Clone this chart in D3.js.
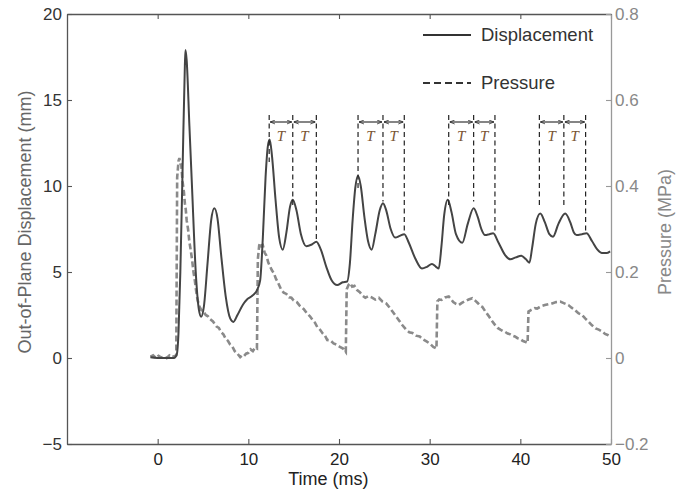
<!DOCTYPE html>
<html>
<head>
<meta charset="utf-8">
<script src="https://cdn.jsdelivr.net/npm/d3@7/dist/d3.min.js"></script>
<style>
  html, body { margin: 0; padding: 0; background: #fff; }
  svg { display: block; font-family: "Liberation Sans", Arial, Helvetica, sans-serif; }
</style>
</head>
<body>
<svg id="chart" width="689" height="493"></svg>
<script>
// ---------- data ----------
const xTicks = [0, 10, 20, 30, 40, 50];
const leftTicks = [-5, 0, 5, 10, 15, 20];
const rightTicks = [-0.2, 0, 0.2, 0.4, 0.6, 0.8];

// Displacement (mm) vs time (ms)
const dispTime = [-0.8, 0.5, 1.8, 2.1, 2.3, 2.5, 2.75, 3.0, 3.07, 3.2, 3.5, 3.8, 4.2, 4.55, 4.8, 5.1, 5.5, 5.9, 6.25, 6.6, 7.0, 7.5, 8.0, 8.35, 8.8, 9.4, 9.85, 10.4, 10.96, 11.3, 11.6, 11.9, 12.15, 12.35, 12.6, 13.0, 13.4, 13.8, 14.2, 14.6, 14.9, 15.3, 15.8, 16.4, 17.0, 17.5, 18.0, 18.6, 19.2, 19.8, 20.4, 20.9, 21.2, 21.5, 21.8, 22.1, 22.4, 22.8, 23.2, 23.6, 24.0, 24.5, 24.85, 25.2, 25.7, 26.2, 26.7, 27.2, 27.7, 28.4, 29.15, 29.7, 30.25, 30.7, 31.0, 31.3, 31.6, 32.0, 32.4, 32.9, 33.6, 34.2, 34.85, 35.3, 35.7, 36.1, 36.6, 37.0, 37.6, 38.3, 38.9, 39.5, 40.1, 40.6, 41.0, 41.3, 41.7, 42.2, 42.7, 43.2, 43.6, 44.2, 44.95, 45.5, 45.9, 46.2, 46.8, 47.3, 47.9, 48.5, 49.0, 49.5, 49.9];
const dispValue = [0.05, 0.0, 0.0, 0.2, 1.5, 5.0, 11.0, 17.0, 17.9, 17.3, 13.5, 9.8, 5.0, 2.8, 2.4, 3.0, 5.5, 8.0, 8.7, 8.1, 6.0, 3.6, 2.3, 2.1, 2.5, 3.1, 3.4, 3.6, 3.95, 4.5, 7.0, 10.5, 12.3, 12.7, 11.8, 9.2, 7.0, 6.3, 7.3, 8.8, 9.2, 8.6, 7.2, 6.5, 6.6, 6.76, 6.3, 5.3, 4.5, 4.24, 4.4, 4.45, 5.5, 8.0, 9.9, 10.6, 10.0, 8.2, 6.8, 6.3, 7.2, 8.6, 9.0, 8.6, 7.5, 7.0, 7.1, 7.2, 6.7, 5.8, 5.2, 5.3, 5.47, 5.3, 5.2, 6.5, 8.3, 9.2, 8.5, 7.2, 6.7, 7.8, 8.7, 8.2, 7.5, 7.15, 7.2, 7.25, 6.7, 6.0, 5.74, 5.85, 5.95, 5.75, 5.54, 6.4, 7.8, 8.4, 7.9, 7.2, 7.05, 7.8, 8.4, 7.9, 7.3, 7.15, 7.2, 7.25, 6.8, 6.3, 6.1, 6.1, 6.2];

// Pressure (MPa) vs time (ms), as [time, pressure] pairs
const presPoints = [
  [-0.8, .003], [-0.5, .006], [-0.2, 0], [0.1, .005], [0.4, .001], [0.7, .004], [1.0, 0], [1.3, .006], [1.6, .002], [1.9, .005], [2.05, .006],
  [2.15, .42], [2.3, .458], [2.4, .465], [2.5, .452], [2.6, .45], [2.75, .41], [2.9, .385], [3.0, .36], [3.1, .345], [3.2, .32], [3.35, .3], [3.5, .27], [3.65, .25], [3.8, .228], [3.95, .2], [4.1, .18], [4.25, .155], [4.4, .135], [4.6, .12], [4.8, .112], [5.05, .108], [5.3, .1], [5.55, .097], [5.8, .09], [6.1, .085], [6.5, .073], [6.75, .07], [7.0, .06], [7.25, .055], [7.5, .045], [7.75, .04], [8.0, .031], [8.25, .026], [8.5, .016], [8.8, .01], [9.1, .002], [9.3, .006], [9.5, .004], [9.75, .01], [10.0, .012], [10.25, .02], [10.5, .016], [10.75, .024], [10.95, .022],
  [11.05, .23], [11.2, .262], [11.3, .268], [11.45, .26], [11.6, .262], [11.8, .245], [12.0, .238], [12.2, .222], [12.4, .213], [12.6, .204], [12.8, .198], [13.05, .184], [13.3, .174], [13.6, .16], [13.9, .152], [14.2, .149], [14.5, .141], [14.75, .14], [15.0, .134], [15.35, .13], [15.7, .121], [16.1, .114], [16.5, .103], [16.8, .097], [17.1, .088], [17.35, .082], [17.6, .072], [17.9, .066], [18.2, .057], [18.45, .052], [18.7, .042], [19.05, .041], [19.4, .034], [19.75, .031], [20.1, .026], [20.45, .022], [20.75, .014],
  [20.85, .16], [21.05, .17], [21.25, .174], [21.45, .166], [21.7, .168], [22.0, .158], [22.3, .153], [22.6, .145], [22.9, .14], [23.25, .144], [23.6, .141], [24.0, .136], [24.4, .14], [24.8, .131], [25.2, .127], [25.55, .118], [25.9, .108], [26.25, .098], [26.6, .088], [27.0, .076], [27.4, .066], [27.75, .06], [28.1, .058], [28.5, .052], [28.9, .05], [29.3, .043], [29.7, .038], [30.05, .033], [30.4, .026], [30.75, .022],
  [30.85, .132], [31.05, .136], [31.3, .135], [31.7, .141], [32.1, .143], [32.35, .137], [32.6, .13], [32.9, .126], [33.2, .123], [33.55, .128], [33.9, .132], [34.3, .136], [34.7, .139], [35.0, .134], [35.3, .128], [35.55, .122], [35.8, .119], [36.15, .108], [36.5, .098], [36.85, .087], [37.2, .077], [37.5, .07], [37.8, .066], [38.05, .063], [38.3, .061], [38.6, .057], [38.9, .055], [39.15, .052], [39.4, .05], [39.7, .046], [40.0, .044], [40.25, .04], [40.5, .038], [40.8, .035],
  [40.9, .108], [41.2, .112], [41.6, .116], [41.85, .115], [42.1, .118], [42.4, .121], [42.7, .123], [43.1, .125], [43.5, .127], [43.95, .13], [44.4, .131], [44.85, .127], [45.3, .123], [45.65, .117], [46.0, .112], [46.4, .104], [46.8, .1], [47.15, .092], [47.5, .085], [47.9, .076], [48.3, .069], [48.65, .066], [49.0, .062], [49.35, .056], [49.7, .053], [49.95, .05]
];

// Period annotation marks (time, ms) and the displacement (mm) where each mark ends
const periodTimes = [[12.3, 14.9, 17.5], [22.1, 24.85, 27.2], [32.1, 34.85, 37.2], [42.1, 44.8, 47.2]];
const periodBottoms = [[11.4, 8.9, 6.8], [9.75, 9.1, 7.3], [8.8, 9.1, 7.3], [8.7, 8.7, 7.3]];
const periodLabel = "T";

const seriesNames = ["Displacement", "Pressure"];

// ---------- layout ----------
const svg = d3.select("#chart");
const L = 67, R = 611, T = 14, B = 444;
const x = d3.scaleLinear().domain([-10, 50]).range([L, R]);
const yL = d3.scaleLinear().domain([-5, 20]).range([B, T]);
const yR = d3.scaleLinear().domain([-0.2, 0.8]).range([B, T]);
const fmt = v => (v < 0 ? "\u2212" + Math.abs(v) : String(v));

// ---------- axes ----------
function styleAxis(g, lineColor, textColor) {
  g.select(".domain").attr("stroke", lineColor).attr("stroke-width", 1.3);
  g.selectAll(".tick line").attr("stroke", lineColor).attr("stroke-width", 1.1);
  g.selectAll(".tick text").attr("fill", textColor).style("font-size", "17px")
    .style("font-family", "'Liberation Sans', Arial, sans-serif");
}

const gB = svg.append("g").attr("transform", `translate(0,${B})`)
  .call(d3.axisBottom(x).tickValues(xTicks).tickFormat(fmt).tickSizeInner(-5).tickSizeOuter(0).tickPadding(9));
styleAxis(gB, "#555", "#222");

const gT = svg.append("g").attr("transform", `translate(0,${T})`)
  .call(d3.axisTop(x).tickValues(xTicks).tickFormat("").tickSizeInner(-5).tickSizeOuter(0));
styleAxis(gT, "#555", "#222");

const gL = svg.append("g").attr("transform", `translate(${L},0)`)
  .call(d3.axisLeft(yL).tickValues(leftTicks).tickFormat(fmt).tickSizeInner(-5).tickSizeOuter(0).tickPadding(5));
styleAxis(gL, "#555", "#333");

const gR = svg.append("g").attr("transform", `translate(${R},0)`)
  .call(d3.axisRight(yR).tickValues(rightTicks).tickFormat(fmt).tickSizeInner(-5).tickSizeOuter(0).tickPadding(4));
styleAxis(gR, "#999", "#888");

// axis titles
svg.append("text").attr("x", (x(0) + x(50)) / 2 - 56).attr("y", 485)
  .attr("text-anchor", "middle").attr("fill", "#222").style("font-size", "18px")
  .text("Time (ms)");
svg.append("text").attr("transform", `translate(31,222) rotate(-90)`)
  .attr("text-anchor", "middle").attr("fill", "#666").style("font-size", "18px")
  .text("Out-of-Plane Displacement (mm)");
svg.append("text").attr("transform", `translate(671,232) rotate(-90)`)
  .attr("text-anchor", "middle").attr("fill", "#888").style("font-size", "18px")
  .text("Pressure (MPa)");

// ---------- series ----------
const dispData = dispTime.map((t, i) => [t, dispValue[i]]);

svg.append("path").datum(presPoints)
  .attr("fill", "none").attr("stroke", "#8a8a8a").attr("stroke-width", 2.6)
  .attr("stroke-dasharray", "6,3")
  .attr("d", d3.line().x(d => x(d[0])).y(d => yR(d[1])).curve(d3.curveLinear));

svg.append("path").datum(dispData)
  .attr("fill", "none").attr("stroke", "#444").attr("stroke-width", 2)
  .attr("d", d3.line().x(d => x(d[0])).y(d => yL(d[1])).curve(d3.curveMonotoneX));

// ---------- period annotations ----------
const defs = svg.append("defs");
function marker(id, flip) {
  defs.append("marker").attr("id", id).attr("viewBox", "0 0 10 10")
    .attr("refX", flip ? 0 : 10).attr("refY", 5)
    .attr("markerWidth", 5).attr("markerHeight", 5).attr("markerUnits", "userSpaceOnUse")
    .attr("orient", "auto")
    .append("path").attr("d", flip ? "M10,1 L0,5 L10,9" : "M0,1 L10,5 L0,9")
    .attr("fill", "none").attr("stroke", "#222").attr("stroke-width", 1.5);
}
marker("arrEnd", false);
marker("arrStart", true);

const markTop = 115, arrowY = 122, labelY = 141;
periodTimes.forEach((grp, gi) => {
  grp.forEach((t, k) => {
    svg.append("line").attr("x1", x(t)).attr("x2", x(t))
      .attr("y1", markTop).attr("y2", yL(periodBottoms[gi][k]))
      .attr("stroke", "#222").attr("stroke-width", 1.2).attr("stroke-dasharray", "5,3.5");
  });
  for (let k = 0; k < grp.length - 1; k++) {
    svg.append("line").attr("x1", x(grp[k]) + 1).attr("x2", x(grp[k + 1]) - 1)
      .attr("y1", arrowY).attr("y2", arrowY)
      .attr("stroke", "#333").attr("stroke-width", 1.2)
      .attr("marker-start", "url(#arrStart)").attr("marker-end", "url(#arrEnd)");
    svg.append("text").attr("x", (x(grp[k]) + x(grp[k + 1])) / 2).attr("y", labelY)
      .attr("text-anchor", "middle").attr("fill", "#7a5533")
      .style("font-family", "'Liberation Serif', 'DejaVu Serif', serif")
      .style("font-style", "italic").style("font-size", "15px")
      .text(periodLabel);
  }
});

// ---------- legend ----------
const legendY = [35, 83];
const legend = svg.append("g");
seriesNames.forEach((name, i) => {
  legend.append("line").attr("x1", 423).attr("x2", 471)
    .attr("y1", legendY[i]).attr("y2", legendY[i])
    .attr("stroke", "#333").attr("stroke-width", 2)
    .attr("stroke-dasharray", i === 1 ? "7,4" : null);
  legend.append("text").attr("x", 481).attr("y", legendY[i]).attr("dy", "0.35em")
    .attr("fill", "#333").style("font-size", "18.5px").text(name);
});
</script>
</body>
</html>
